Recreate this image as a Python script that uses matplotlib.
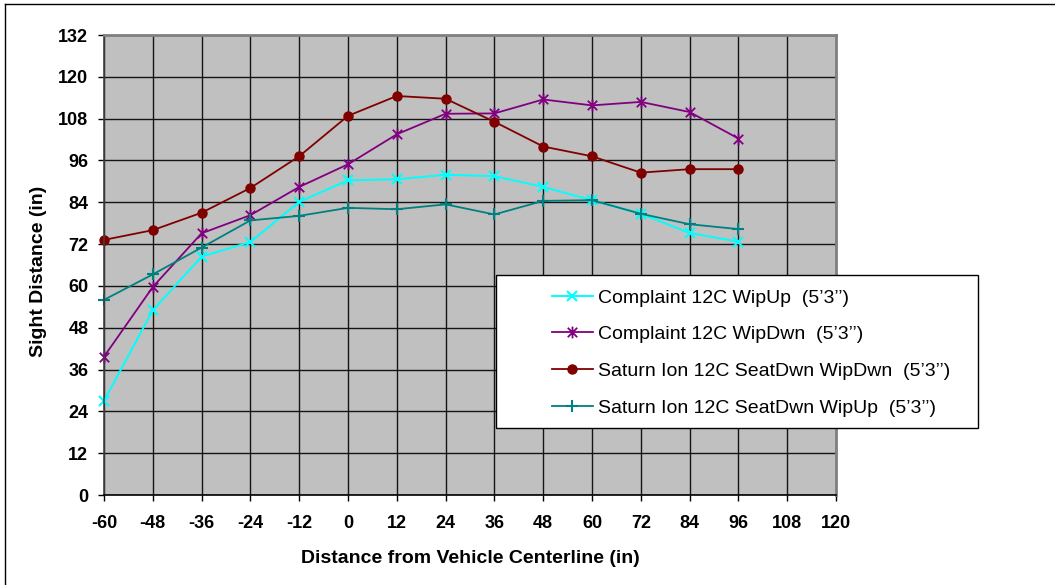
#!/usr/bin/env python3

import matplotlib
matplotlib.use('Agg')
import matplotlib.pyplot as plt
from matplotlib.lines import Line2D
from matplotlib.patches import Rectangle
from matplotlib.path import Path

plt.rcParams['font.family'] = ['Liberation Sans', 'DejaVu Sans']
plt.rcParams['axes.unicode_minus'] = False

distance = [-60, -48, -36, -24, -12, 0, 12, 24, 36, 48, 60, 72, 84, 96]

complaint_wipup = [27, 53, 68.4, 72.6, 84.1, 90.3, 90.6, 91.9, 91.5, 88.4, 84.6, 80.7, 75.2, 72.7]
complaint_wipdwn = [39.7, 59.7, 75.1, 80.3, 88.4, 94.9, 103.5, 109.4, 109.5, 113.5, 111.8, 112.8, 109.9, 102.3]
saturn_wipdwn = [73.2, 76.0, 81.0, 88.1, 97.2, 108.8, 114.5, 113.7, 107.1, 100.0, 97.2, 92.5, 93.5, 93.5]
saturn_wipup = [56.0, 63.3, 71.0, 78.8, 80.1, 82.4, 82.0, 83.4, 80.5, 84.4, 84.6, 80.7, 77.7, 76.3]

labels = [
    'Complaint 12C WipUp  (5\u20193\u2019\u2019)',
    'Complaint 12C WipDwn  (5\u20193\u2019\u2019)',
    'Saturn Ion 12C SeatDwn WipDwn  (5\u20193\u2019\u2019)',
    'Saturn Ion 12C SeatDwn WipUp  (5\u20193\u2019\u2019)',
]

x_ticks = list(range(-60, 121, 12))
y_ticks = list(range(0, 133, 12))

# excel style asterisk: an X with a vertical bar through it
star = Path([(-1, -1), (1, 1), (-1, 1), (1, -1), (0, -1.25), (0, 1.25)],
            [Path.MOVETO, Path.LINETO, Path.MOVETO, Path.LINETO, Path.MOVETO, Path.LINETO])

fig = plt.figure(figsize=(10.55, 5.85), dpi=100)
ax = fig.add_axes([104 / 1055, 1 - 495 / 585, 732 / 1055, 460 / 585])
ax.set_facecolor('#C0C0C0')

ax.plot(distance, complaint_wipup, color='#00FFFF', lw=1.4, marker='x', ms=7, mew=1.5,
        label=labels[0], clip_on=False)
ax.plot(distance, complaint_wipdwn, color='#800080', lw=1.3, marker=star, ms=8.5, mew=1.3,
        label=labels[1], clip_on=False)
ax.plot(distance, saturn_wipdwn, color='#800000', lw=1.3, marker='o', ms=6.5,
        label=labels[2], clip_on=False)
ax.plot(distance, saturn_wipup, color='#008080', lw=1.3, marker='+', ms=8, mew=1.5,
        label=labels[3], clip_on=False)

ax.set_xlim(-60, 120)
ax.set_ylim(0, 132)
ax.set_xticks(x_ticks)
ax.set_yticks(y_ticks)
ax.grid(True, color='#151515', lw=1.0)
ax.set_axisbelow(True)
ax.tick_params(direction='out', length=4.3, width=1, color='black')
ax.tick_params(axis='x', pad=10)
ax.tick_params(axis='y', pad=7)
for lab in ax.get_xticklabels() + ax.get_yticklabels():
    lab.set_fontweight('bold')
    lab.set_fontsize(13)

for side in ['top', 'right']:
    ax.spines[side].set_color('#808080')
    ax.spines[side].set_linewidth(2)
ax.spines['left'].set_color('#404040')
ax.spines['left'].set_linewidth(1.2)
ax.spines['bottom'].set_color('black')
ax.spines['bottom'].set_linewidth(1.2)

ax.set_xlabel('Distance from Vehicle Centerline (in)', fontsize=14, fontweight='bold', va='top')
ax.xaxis.set_label_coords(0.5, (495 - 550) / 460)
ax.set_ylabel('Sight Distance (in)', fontsize=14, fontweight='bold')
ax.yaxis.set_label_coords((47 - 104) / 732, (495 - 271) / 460)

# legend box is bigger than the legend itself
fig.add_artist(Rectangle((496 / 1055, 1 - 428 / 585), (978 - 496) / 1055, (428 - 275) / 585,
                         transform=fig.transFigure, facecolor='white', edgecolor='black', lw=1, zorder=3))
fig.legend(loc='upper left', bbox_to_anchor=(552 / 1055, 1 - 289 / 585), frameon=False,
           fontsize=14, borderpad=0, borderaxespad=0, handlelength=2.1, handletextpad=0.25,
           labelspacing=0.98).set_zorder(5)

# outer chart border (only top and left edges are visible)
fig.add_artist(Line2D([5 / 1055, 5 / 1055], [0, 1 - 4 / 585], transform=fig.transFigure, color='black', lw=1))
fig.add_artist(Line2D([5 / 1055, 1], [1 - 4 / 585, 1 - 4 / 585], transform=fig.transFigure, color='black', lw=1))

plt.savefig('out.png', dpi=100)
